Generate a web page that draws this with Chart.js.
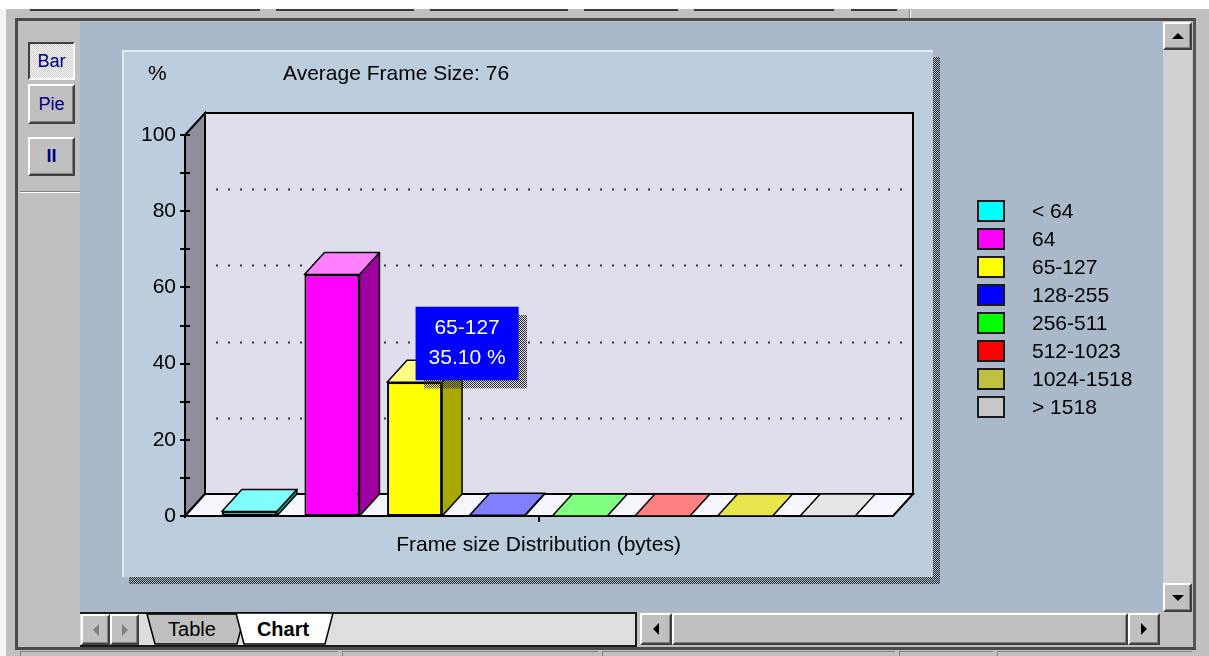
<!DOCTYPE html>
<html>
<head>
<meta charset="utf-8">
<script src="https://cdn.jsdelivr.net/npm/chart.js@4.4.0/dist/chart.umd.min.js"></script>
<style>
body { margin: 0; width: 1209px; height: 656px; background: #c0c0c0; position: relative; overflow: hidden;
       font-family: 'Liberation Sans', Arial, sans-serif; }
.a { position: absolute; box-sizing: border-box; }
.raised { background: #c0c0c0; border: 2px solid; border-color: #fff #404040 #404040 #fff; box-shadow: inset -1px -1px 0 #808080; }
.pressed { border: 2px solid; border-color: #404040 #fff #fff #404040;
           background: repeating-conic-gradient(#fff 0 25%, #c8c8c8 0 50%) 0 0/2px 2px; }
.dither { background: repeating-conic-gradient(#2c2c2c 0 25%, transparent 0 50%) 0 0/2px 2px; }
.btn { color: #000080; font-size: 18px; display: flex; align-items: center; justify-content: center; }
.tri-up { width: 0; height: 0; border-left: 6px solid transparent; border-right: 6px solid transparent; border-bottom: 6px solid #000; }
.tri-down { width: 0; height: 0; border-left: 6px solid transparent; border-right: 6px solid transparent; border-top: 6px solid #000; }
.tri-left { width: 0; height: 0; border-top: 6px solid transparent; border-bottom: 6px solid transparent; border-right: 6px solid #000; }
.tri-right { width: 0; height: 0; border-top: 6px solid transparent; border-bottom: 6px solid transparent; border-left: 6px solid #000; }
</style>
</head>
<body>
<!-- window chrome -->
<div class="a" style="left:0;top:0;width:1209px;height:9px;background:#fff"></div>
<div class="a" style="left:30px;top:9px;width:230px;height:2px;background:#3a3a3a"></div>
<div class="a" style="left:276px;top:9px;width:138px;height:2px;background:#3a3a3a"></div>
<div class="a" style="left:430px;top:9px;width:138px;height:2px;background:#3a3a3a"></div>
<div class="a" style="left:584px;top:9px;width:94px;height:2px;background:#3a3a3a"></div>
<div class="a" style="left:694px;top:9px;width:140px;height:2px;background:#3a3a3a"></div>
<div class="a" style="left:851px;top:9px;width:46px;height:2px;background:#3a3a3a"></div>
<div class="a" style="left:909px;top:9px;width:2px;height:9px;background:#808080;border-right:1px solid #fff"></div>
<div class="a" style="left:0;top:9px;width:6px;height:647px;background:#f4f4f4"></div>
<div class="a" style="left:15px;top:18px;width:1181px;height:632px;border:3px solid #4a4a4a;border-right-color:#555"></div>

<!-- left toolbar -->
<div class="a pressed btn" style="left:28px;top:42px;width:47px;height:38px">Bar</div>
<div class="a raised btn" style="left:28px;top:84px;width:47px;height:40px">Pie</div>
<div class="a raised btn" style="left:28px;top:137px;width:47px;height:39px;font-weight:bold">II</div>
<div class="a" style="left:20px;top:191px;width:60px;height:1px;background:#808080"></div>
<div class="a" style="left:20px;top:192px;width:60px;height:1px;background:#fff"></div>

<!-- content area with panel -->
<div class="a" style="left:80px;top:22px;width:1083px;height:590px;background:#a9b9ca"></div>
<div class="a" style="left:122px;top:50px;width:811px;height:527px;background:#bccddd;border-top:2px solid #e2ebf3;border-left:2px solid #e2ebf3"></div>
<div class="a dither" style="left:933px;top:57px;width:7px;height:527px"></div>
<div class="a dither" style="left:129px;top:577px;width:804px;height:7px"></div>

<!-- vertical scrollbar -->
<div class="a" style="left:1163px;top:22px;width:29px;height:590px;background:#d0d0d0"></div>
<div class="a raised" style="left:1163px;top:22px;width:29px;height:28px;display:flex;align-items:center;justify-content:center"><div class="tri-up"></div></div>
<div class="a raised" style="left:1163px;top:583px;width:29px;height:29px;display:flex;align-items:center;justify-content:center"><div class="tri-down"></div></div>

<!-- tab bar -->
<div class="a" style="left:80px;top:612px;width:557px;height:35px;background:#dedede;border-top:2px solid #1a1a1a;border-bottom:2px solid #1a1a1a;border-right:2px solid #1a1a1a"></div>
<div class="a raised" style="left:81px;top:614px;width:29px;height:31px;display:flex;align-items:center;justify-content:center"><div class="tri-left" style="border-right-color:#808080"></div></div>
<div class="a raised" style="left:110px;top:614px;width:29px;height:31px;display:flex;align-items:center;justify-content:center"><div class="tri-right" style="border-left-color:#808080"></div></div>
<svg class="a" style="left:0;top:0" width="1209" height="656">
  <polygon points="147,614 245,614 237,644 155,644" fill="#c0c0c0" stroke="#000" stroke-width="1.5"/>
  <polygon points="236,613 333,613 325,644 244,644" fill="#fff" stroke="#000" stroke-width="1.5"/>
  <text x="192" y="636" font-size="20" text-anchor="middle" font-family="Liberation Sans, Arial">Table</text>
  <text x="283" y="636" font-size="20" font-weight="bold" text-anchor="middle" font-family="Liberation Sans, Arial">Chart</text>
</svg>

<!-- horizontal scrollbar -->
<div class="a raised" style="left:640px;top:613px;width:32px;height:32px;display:flex;align-items:center;justify-content:center"><div class="tri-left"></div></div>
<div class="a raised" style="left:672px;top:613px;width:456px;height:32px"></div>
<div class="a raised" style="left:1128px;top:613px;width:32px;height:32px;display:flex;align-items:center;justify-content:center"><div class="tri-right"></div></div>

<!-- status bar -->
<div class="a" style="left:20px;top:651px;width:318px;height:5px;border-top:1px solid #808080;border-left:1px solid #808080"></div>
<div class="a" style="left:342px;top:651px;width:256px;height:5px;border-top:1px solid #808080;border-left:1px solid #808080"></div>
<div class="a" style="left:602px;top:651px;width:293px;height:5px;border-top:1px solid #808080;border-left:1px solid #808080"></div>
<div class="a" style="left:899px;top:651px;width:94px;height:5px;border-top:1px solid #808080;border-left:1px solid #808080"></div>
<div class="a" style="left:997px;top:651px;width:195px;height:5px;border-top:1px solid #808080;border-left:1px solid #808080"></div>

<div class="a" style="left:80px;top:22px;width:1082px;height:590px">
  <canvas id="frameChart"></canvas>
</div>

<script>
// chart data
const categories = ['< 64', '64', '65-127', '128-255', '256-511', '512-1023', '1024-1518', '> 1518'];
const percentages = [1.2, 63.4, 35.1, 0.2, 0, 0, 0, 0];
const yTickValues = [0, 20, 40, 60, 80, 100];
const averageFrameSize = 76;
const xAxisTitle = 'Frame size Distribution (bytes)';
const tooltipCategory = '65-127';

// bar colours: front face, top face, side face
const frontColors = ['#00ffff', '#ff00ff', '#ffff00', '#0000ff', '#00ff00', '#ff0000', '#c0c040', '#c8c8c8'];
const topColors   = ['#80ffff', '#ff80ff', '#ffff80', '#8080ff', '#80ff80', '#ff8080', '#e6e64c', '#e6e6e6'];
const sideColors  = ['#00a8a8', '#a000a0', '#a8a800', '#0000a0', '#00a000', '#a00000', '#808020', '#909090'];

const WALL  = '#dedeec';
const FLOOR = '#f6f6fe';
const SIDE_WALL = '#8e8e9c';
const FONT = "'Liberation Sans', Arial, sans-serif";

// 3d depth offset
const DX = 20, DY = -22;
const FLOOR_LEFT = 23, FLOOR_RIGHT = 24;

// checkered shadow pattern like the old win32 look
const patCanvas = document.createElement('canvas');
patCanvas.width = 2; patCanvas.height = 2;
const pctx = patCanvas.getContext('2d');
pctx.fillStyle = '#2c2c2c';
pctx.fillRect(0, 0, 1, 1);
pctx.fillRect(1, 1, 1, 1);

function poly(ctx, pts, fill) {
    ctx.beginPath();
    ctx.moveTo(pts[0][0], pts[0][1]);
    for (let i = 1; i < pts.length; i++) ctx.lineTo(pts[i][0], pts[i][1]);
    ctx.closePath();
    if (fill) { ctx.fillStyle = fill; ctx.fill(); }
    ctx.stroke();
}

const frame3d = {
    id: 'frame3d',
    beforeDatasetsDraw(chart) {
        const { ctx, chartArea: a, scales: { y } } = chart;
        const L = a.left - FLOOR_LEFT, R = a.right + FLOOR_RIGHT;
        const top = y.getPixelForValue(y.max), bot = y.getPixelForValue(y.min);
        ctx.save();
        ctx.strokeStyle = '#000';
        ctx.lineWidth = 2;

        // back wall, left wall, floor
        poly(ctx, [[L + DX, top + DY], [R + DX, top + DY], [R + DX, bot + DY], [L + DX, bot + DY]], WALL);
        poly(ctx, [[L, top], [L + DX, top + DY], [L + DX, bot + DY], [L, bot]], SIDE_WALL);
        poly(ctx, [[L, bot], [R, bot], [R + DX, bot + DY], [L + DX, bot + DY]], FLOOR);

        // dotted grid on the back wall
        ctx.setLineDash([2, 10]);
        ctx.strokeStyle = '#333';
        y.ticks.filter(t => t.value > y.min && t.value < y.max).forEach(t => {
            const py = Math.round(y.getPixelForValue(t.value) + DY) + 0.5;
            ctx.beginPath();
            ctx.moveTo(L + DX + 11, py);
            ctx.lineTo(R + DX - 6, py);
            ctx.stroke();
        });
        ctx.setLineDash([]);

        // front axis line with major and minor ticks
        ctx.strokeStyle = '#000';
        ctx.beginPath();
        ctx.moveTo(L, top);
        ctx.lineTo(L, bot + 2);
        ctx.moveTo(L - 5, bot);
        ctx.lineTo(R, bot);
        const vals = y.ticks.map(t => t.value);
        const marks = [];
        vals.forEach((v, i) => {
            marks.push(v);
            if (i < vals.length - 1) marks.push((v + vals[i + 1]) / 2);
        });
        marks.forEach(v => {
            const py = Math.round(y.getPixelForValue(v));
            ctx.moveTo(L - 5, py);
            ctx.lineTo(L + 5, py);
        });
        // single tick mark in the middle of the floor edge
        const mid = Math.round((L + R) / 2);
        ctx.moveTo(mid, bot);
        ctx.lineTo(mid, bot + 6);
        ctx.stroke();
        ctx.restore();
    },
    afterDatasetsDraw(chart) {
        const { ctx } = chart;
        const meta = chart.getDatasetMeta(0);
        ctx.save();
        ctx.strokeStyle = '#000';
        ctx.lineWidth = 1.5;
        ctx.lineJoin = 'round';
        meta.data.forEach((el, i) => {
            const { x, y, base, width } = el.getProps(['x', 'y', 'base', 'width'], true);
            const l = x - width / 2, r = x + width / 2;
            if (base - y > 0.5) {
                poly(ctx, [[r, y], [r + DX, y + DY], [r + DX, base + DY], [r, base]], sideColors[i]);
            }
            poly(ctx, [[l, y], [r, y], [r + DX, y + DY], [l + DX, y + DY]], topColors[i]);
        });
        ctx.restore();
    },
    afterDraw(chart) {
        const { ctx } = chart;
        ctx.save();
        ctx.font = '21px ' + FONT;
        ctx.fillStyle = '#000';
        ctx.textBaseline = 'middle';
        ctx.textAlign = 'left';
        ctx.fillText('%', 68, 52);
        ctx.fillText('Average Frame Size: ' + averageFrameSize, 203, 52);

        // legend, one row per category
        categories.forEach((c, i) => {
            const yy = 178 + i * 28;
            ctx.fillStyle = frontColors[i];
            ctx.fillRect(897, yy, 28, 22);
            ctx.strokeStyle = '#1a1a1a';
            ctx.lineWidth = 2;
            ctx.strokeRect(898, yy + 1, 26, 20);
            ctx.fillStyle = '#000';
            ctx.fillText(c, 952, yy + 12);
        });
        ctx.restore();
    },
    beforeTooltipDraw(chart, args) {
        const t = args.tooltip;
        if (!t.opacity) return;
        const { ctx } = chart;
        ctx.save();
        ctx.fillStyle = ctx.createPattern(patCanvas, 'repeat');
        ctx.fillRect(Math.round(t.x) + 8, Math.round(t.y) + 8, t.width, t.height);
        ctx.restore();
    }
};

// tooltip sits with its corner on the top of the bar
Chart.Tooltip.positioners.barCorner = function(items) {
    if (!items.length) return false;
    const el = items[0].element;
    return { x: el.x + 1, y: el.y - 2 };
};

Chart.defaults.font.family = FONT;
Chart.defaults.font.size = 21;
Chart.defaults.color = '#000';

const chart = new Chart(document.getElementById('frameChart'), {
    type: 'bar',
    data: {
        labels: categories,
        datasets: [{
            data: percentages,
            backgroundColor: frontColors,
            borderColor: '#000',
            borderWidth: c => c.raw > 0 ? 2 : 0,
            borderSkipped: false,
            barPercentage: 0.666,
            categoryPercentage: 1,
        }]
    },
    options: {
        responsive: true,
        maintainAspectRatio: false,
        animation: false,
        events: [],
        layout: { padding: { top: 113, bottom: 54, left: 38, right: 293 } },
        plugins: {
            legend: { display: false },
            tooltip: {
                position: 'barCorner',
                xAlign: 'left',
                yAlign: 'bottom',
                caretSize: 0,
                caretPadding: 0,
                cornerRadius: 0,
                backgroundColor: '#0000ff',
                displayColors: false,
                titleColor: '#fff',
                bodyColor: '#fff',
                titleFont: { size: 21, weight: 'normal' },
                bodyFont: { size: 21 },
                titleAlign: 'center',
                bodyAlign: 'center',
                titleMarginBottom: 5,
                padding: { x: 13, y: 9 },
                callbacks: {
                    title: items => categories[items[0].dataIndex],
                    label: item => item.parsed.y.toFixed(2) + ' %'
                }
            }
        },
        scales: {
            x: {
                grid: { display: false, drawTicks: false },
                border: { display: false },
                ticks: { display: false },
                afterFit: s => { s.height = 42; },
                title: { display: true, text: xAxisTitle, padding: { top: 17, bottom: 0 } }
            },
            y: {
                min: 0,
                max: 100,
                afterBuildTicks: s => { s.ticks = yTickValues.map(v => ({ value: v })); },
                afterFit: s => { s.width = 90; },
                grid: { display: false, drawTicks: false },
                border: { display: false },
                ticks: { padding: 32 }
            }
        }
    },
    plugins: [frame3d]
});

// show the hover box on the 65-127 bar like the screenshot
chart.tooltip.setActiveElements([{ datasetIndex: 0, index: categories.indexOf(tooltipCategory) }], { x: 0, y: 0 });
chart.update();
</script>
</body>
</html>
